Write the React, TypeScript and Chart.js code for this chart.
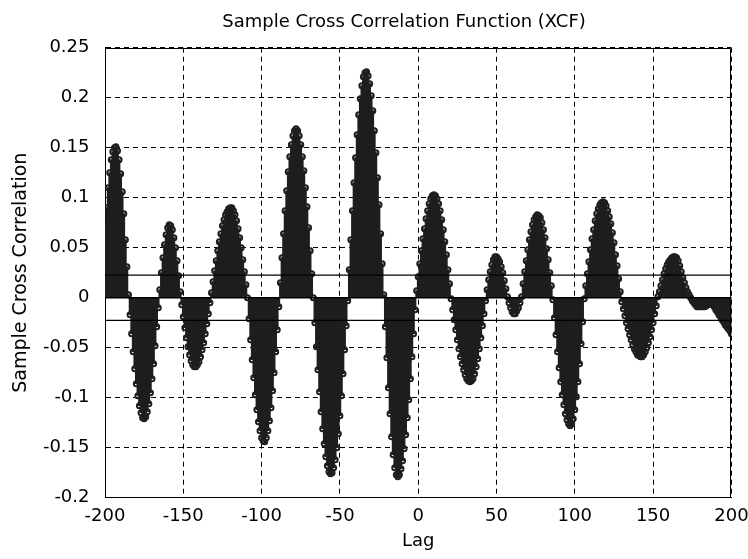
import React, { useEffect, useRef } from 'react';
import { Chart, registerables } from 'chart.js';

Chart.register(...registerables);

// Sample cross correlation, lags -200 .. 200 (one value per lag)
const xcf: number[] = [
  // -200 .. -185
  0.070, 0.090, 0.110, 0.125, 0.138, 0.146, 0.150, 0.151, 0.147, 0.138, 0.124, 0.106, 0.084, 0.058, 0.031, 0.003,
  // -184 .. -166
  -0.017, -0.036, -0.054, -0.071, -0.086, -0.098, -0.108, -0.115, -0.120, -0.121, -0.119, -0.114, -0.106, -0.095, -0.081, -0.066, -0.048, -0.029, -0.010,
  // -165 .. -152
  0.008, 0.025, 0.040, 0.053, 0.063, 0.070, 0.073, 0.072, 0.068, 0.060, 0.050, 0.037, 0.022, 0.006,
  // -151 .. -133
  -0.007, -0.019, -0.030, -0.040, -0.049, -0.057, -0.063, -0.067, -0.069, -0.069, -0.067, -0.064, -0.059, -0.052, -0.045, -0.036, -0.026, -0.016, -0.005,
  // -132 .. -109
  0.005, 0.016, 0.027, 0.037, 0.047, 0.056, 0.064, 0.072, 0.078, 0.083, 0.086, 0.089, 0.090, 0.090, 0.087, 0.083, 0.077, 0.069, 0.060, 0.050, 0.038, 0.026, 0.013, 0.000,
  // -108 .. -89
  -0.021, -0.042, -0.062, -0.080, -0.097, -0.112, -0.124, -0.133, -0.140, -0.143, -0.144, -0.140, -0.133, -0.123, -0.110, -0.093, -0.075, -0.054, -0.032, -0.009,
  // -88 .. -67
  0.015, 0.040, 0.064, 0.087, 0.107, 0.126, 0.141, 0.153, 0.162, 0.167, 0.169, 0.167, 0.162, 0.153, 0.141, 0.127, 0.110, 0.091, 0.070, 0.047, 0.024, 0.000,
  // -66 .. -45
  -0.025, -0.049, -0.072, -0.094, -0.114, -0.131, -0.146, -0.159, -0.168, -0.174, -0.176, -0.175, -0.170, -0.162, -0.150, -0.136, -0.118, -0.098, -0.076, -0.052, -0.028, -0.003,
  // -44 .. -22
  0.028, 0.058, 0.087, 0.115, 0.140, 0.163, 0.183, 0.199, 0.212, 0.221, 0.225, 0.226, 0.222, 0.214, 0.202, 0.187, 0.167, 0.145, 0.120, 0.093, 0.064, 0.034, 0.003,
  // -21 .. -2
  -0.029, -0.060, -0.090, -0.116, -0.139, -0.157, -0.170, -0.177, -0.179, -0.177, -0.171, -0.163, -0.151, -0.137, -0.120, -0.102, -0.081, -0.059, -0.036, -0.012,
  // -1 .. 20
  0.007, 0.021, 0.034, 0.047, 0.059, 0.069, 0.079, 0.087, 0.094, 0.099, 0.102, 0.103, 0.102, 0.099, 0.094, 0.087, 0.078, 0.068, 0.056, 0.043, 0.028, 0.014,
  // 21 .. 43
  -0.001, -0.012, -0.022, -0.032, -0.042, -0.051, -0.059, -0.066, -0.072, -0.077, -0.081, -0.083, -0.084, -0.083, -0.081, -0.076, -0.069, -0.061, -0.051, -0.040, -0.028, -0.016, -0.003,
  // 44 .. 57
  0.008, 0.018, 0.026, 0.033, 0.038, 0.041, 0.041, 0.039, 0.036, 0.031, 0.025, 0.017, 0.009, 0.001,
  // 58 .. 65
  -0.005, -0.010, -0.014, -0.016, -0.016, -0.013, -0.010, -0.005,
  // 66 .. 85
  0.001, 0.014, 0.026, 0.037, 0.048, 0.058, 0.066, 0.073, 0.078, 0.081, 0.083, 0.082, 0.080, 0.075, 0.068, 0.060, 0.049, 0.038, 0.025, 0.012,
  // 86 .. 106
  -0.002, -0.020, -0.037, -0.054, -0.070, -0.084, -0.097, -0.107, -0.116, -0.122, -0.126, -0.128, -0.126, -0.121, -0.112, -0.099, -0.084, -0.066, -0.046, -0.024, -0.001,
  // 107 .. 129
  0.012, 0.024, 0.036, 0.048, 0.059, 0.068, 0.077, 0.084, 0.089, 0.093, 0.095, 0.096, 0.095, 0.092, 0.087, 0.081, 0.074, 0.065, 0.055, 0.043, 0.032, 0.019, 0.006,
  // 130 .. 152
  -0.004, -0.011, -0.018, -0.025, -0.031, -0.037, -0.042, -0.047, -0.051, -0.054, -0.057, -0.058, -0.059, -0.059, -0.057, -0.054, -0.050, -0.045, -0.039, -0.032, -0.025, -0.016, -0.008,
  // 153 .. 175
  0.001, 0.006, 0.012, 0.018, 0.024, 0.029, 0.033, 0.036, 0.038, 0.040, 0.041, 0.041, 0.040, 0.037, 0.032, 0.026, 0.020, 0.015, 0.010, 0.006, 0.003, 0.000, -0.003,
  // 176 .. 200
  -0.005, -0.007, -0.009, -0.009, -0.009, -0.009, -0.009, -0.009, -0.008, -0.007, -0.006, -0.006, -0.007, -0.009, -0.012, -0.014, -0.017, -0.019, -0.022, -0.024, -0.027, -0.029, -0.031, -0.033, -0.036,
];

const firstLag = -200;
const lags: number[] = xcf.map((_, i) => firstLag + i);

const confidenceUpper = 0.0226;
const confidenceLower = -0.0226;

const xMin = -200;
const xMax = 200;
const xStep = 50;
const yMin = -0.2;
const yMax = 0.25;
const yStep = 0.05;

const titleText = 'Sample Cross Correlation Function (XCF)';
const xLabel = 'Lag';
const yLabel = 'Sample Cross Correlation';

const STEM = '#1e1e1e';
const FONT = "'DejaVu Sans', sans-serif";

const boxPlugin = {
  id: 'boxPlugin',
  afterDraw(chart: any) {
    const { ctx, chartArea } = chart;
    const l = Math.round(chartArea.left) + 0.5;
    const r = Math.round(chartArea.right) - 0.5;
    const t = Math.round(chartArea.top) + 0.5;
    const b = Math.round(chartArea.bottom) - 0.5;
    ctx.save();
    ctx.strokeStyle = '#000';
    ctx.lineWidth = 1;
    ctx.setLineDash([]);
    ctx.beginPath();
    ctx.moveTo(l, t);
    ctx.lineTo(r, t);
    ctx.lineTo(r, b);
    ctx.stroke();
    ctx.restore();
  },
};

export default function App() {
  const canvasRef = useRef<HTMLCanvasElement | null>(null);

  useEffect(() => {
    const canvas = canvasRef.current;
    if (!canvas) return;
    const points = lags.map((lag, i) => ({ x: lag, y: xcf[i] }));
    const chart = new Chart(canvas, {
      type: 'bar',
      data: {
        datasets: [
          {
            type: 'line',
            label: 'zero',
            data: [{ x: xMin, y: 0 }, { x: xMax, y: 0 }],
            borderColor: '#000',
            borderWidth: 1.5,
            pointRadius: 0,
            xAxisID: 'x',
            yAxisID: 'y',
            order: 0,
          } as any,
          {
            type: 'line',
            label: 'upper bound',
            data: [{ x: xMin, y: confidenceUpper }, { x: xMax, y: confidenceUpper }],
            borderColor: '#000',
            borderWidth: 1.3,
            pointRadius: 0,
            xAxisID: 'x',
            yAxisID: 'y',
            order: 0,
          } as any,
          {
            type: 'line',
            label: 'lower bound',
            data: [{ x: xMin, y: confidenceLower }, { x: xMax, y: confidenceLower }],
            borderColor: '#000',
            borderWidth: 1.3,
            pointRadius: 0,
            xAxisID: 'x',
            yAxisID: 'y',
            order: 0,
          } as any,
          {
            type: 'line',
            label: 'markers',
            data: points,
            showLine: false,
            pointRadius: 2.5,
            pointBorderWidth: 2,
            pointBorderColor: STEM,
            pointBackgroundColor: 'rgba(0,0,0,0)',
            xAxisID: 'x',
            yAxisID: 'y',
            order: 1,
          } as any,
          {
            type: 'bar',
            label: 'stems',
            data: points,
            backgroundColor: STEM,
            borderWidth: 0,
            barThickness: 2,
            xAxisID: 'x',
            yAxisID: 'y',
            order: 2,
          } as any,
        ],
      },
      options: {
        responsive: false,
        maintainAspectRatio: false,
        devicePixelRatio: 1,
        animation: false,
        events: [],
        layout: { padding: 0 },
        plugins: {
          legend: { display: false },
          tooltip: { enabled: false },
          title: {
            display: true,
            text: titleText,
            color: '#000',
            font: { family: FONT, size: 18, weight: 'normal' },
            padding: { top: 12, bottom: 14.1 },
          },
        },
        scales: {
          x: {
            type: 'linear',
            position: 'bottom',
            min: xMin,
            max: xMax,
            offset: false,
            grid: { display: true, color: '#000', lineWidth: 1, drawTicks: false, offset: false },
            border: { display: true, color: '#000', width: 1, dash: [5, 4] },
            ticks: {
              stepSize: xStep,
              autoSkip: false,
              maxRotation: 0,
              color: '#000',
              padding: 7.5,
              font: { family: FONT, size: 18 },
              callback: (v: any) => String(Math.round(Number(v))),
            },
            title: {
              display: true,
              text: xLabel,
              color: '#000',
              font: { family: FONT, size: 18 },
              padding: { top: 0, bottom: 7.2 },
            },
            afterFit: (s: any) => {
              s.height = 61.3;
            },
          },
          y: {
            type: 'linear',
            position: 'left',
            min: yMin,
            max: yMax,
            grid: { display: true, color: '#000', lineWidth: 1, drawTicks: false },
            border: { display: true, color: '#000', width: 1, dash: [5, 4] },
            ticks: {
              stepSize: yStep,
              color: '#000',
              padding: 15.5,
              font: { family: FONT, size: 18 },
              callback: (v: any) => String(Math.round(Number(v) * 100) / 100),
            },
            title: {
              display: true,
              text: yLabel,
              color: '#000',
              font: { family: FONT, size: 19 },
              padding: { top: 10, bottom: 0 },
            },
            afterFit: (s: any) => {
              s.width = 105;
            },
          },
          y2: {
            type: 'linear',
            position: 'right',
            display: true,
            grid: { display: false, drawTicks: false },
            border: { display: false },
            ticks: { display: false },
            afterFit: (s: any) => {
              s.width = 76.6;
            },
          },
        },
      },
      plugins: [boxPlugin],
    } as any);
    return () => {
      chart.destroy();
    };
  }, []);

  return (
    <div
      style={{
        position: 'fixed',
        left: 0,
        top: 0,
        width: 748,
        height: 559,
        overflow: 'hidden',
        background: '#fff',
      }}
    >
      <canvas ref={canvasRef} width={808} height={559} style={{ display: 'block', width: 808, height: 559 }} />
    </div>
  );
}
